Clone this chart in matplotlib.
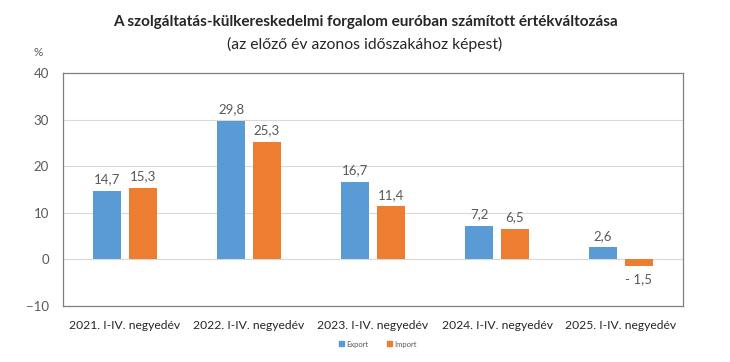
import numpy as np
import matplotlib.pyplot as plt
from matplotlib.patches import Patch

categories = ["2021. I-IV. negyedév", "2022. I-IV. negyedév", "2023. I-IV. negyedév",
              "2024. I-IV. negyedév", "2025. I-IV. negyedév"]
export_vals = [14.7, 29.8, 16.7, 7.2, 2.6]
import_vals = [15.3, 25.3, 11.4, 6.5, -1.5]

blue = "#5B9BD5"
orange = "#ED7D31"
grey = "#595959"

plt.rcParams['font.family'] = ['Lato', 'DejaVu Sans']

fig = plt.figure(figsize=(7.3, 3.62), dpi=100)
ax = fig.add_axes([63/730, 1 - 306/362, 620/730, 233/362])

x = np.arange(len(categories))
w = 0.226
off = 0.145
ax.bar(x - off, export_vals, w, color=blue, zorder=3)
ax.bar(x + off, import_vals, w, color=orange, zorder=3)


def fmt(v):
    s = f"{abs(v):.1f}".replace(".", ",")
    return "- " + s if v < 0 else s


for xi, v in zip(x - off, export_vals):
    ax.text(xi, v + 1.2, fmt(v), ha="center", va="bottom", fontsize=9.5, color=grey)
for xi, v in zip(x + off, import_vals):
    if v >= 0:
        ax.text(xi, v + 1.2, fmt(v), ha="center", va="bottom", fontsize=9.5, color=grey)
    else:
        ax.text(xi, v - 1.5, fmt(v), ha="center", va="top", fontsize=9.5, color=grey)

ax.set_xlim(-0.5, len(categories) - 0.5)
ax.set_ylim(-10, 40)
ax.set_yticks(range(-10, 41, 10))
ax.set_xticks(x)
ax.set_xticklabels(categories, fontsize=8.7, color="#262626")
ax.tick_params(axis="both", length=0)
ax.tick_params(axis="y", colors=grey, pad=10, labelsize=9.5)
ax.tick_params(axis="x", pad=10)
ax.grid(axis="y", color="#D9D9D9", linewidth=0.8, zorder=0)
for s in ax.spines.values():
    s.set_color("#808080")
    s.set_linewidth(0.9)

fig.text(63/730 - 0.04, 1 - 52/362, "%", fontsize=8.5, color=grey, ha="left", va="center")

fig.text(0.5, 1 - 22/362, "A szolgáltatás-külkereskedelmi forgalom euróban számított értékváltozása",
         ha="center", va="center", fontsize=11, fontweight="bold", color="#262626")
fig.text(0.5, 1 - 44/362, "(az előző év azonos időszakához képest)",
         ha="center", va="center", fontsize=11.3, color="#262626")

handles = [Patch(color=blue, label="Export"), Patch(color=orange, label="Import")]
fig.legend(handles=handles, loc="center", bbox_to_anchor=(378/730, 1 - 344/362), ncol=2,
           frameon=False, fontsize=5.5, handlelength=0.6, handleheight=0.6,
           handletextpad=0.3, columnspacing=2.5, labelcolor=grey)

fig.savefig("out.png", dpi=100, facecolor="white")
